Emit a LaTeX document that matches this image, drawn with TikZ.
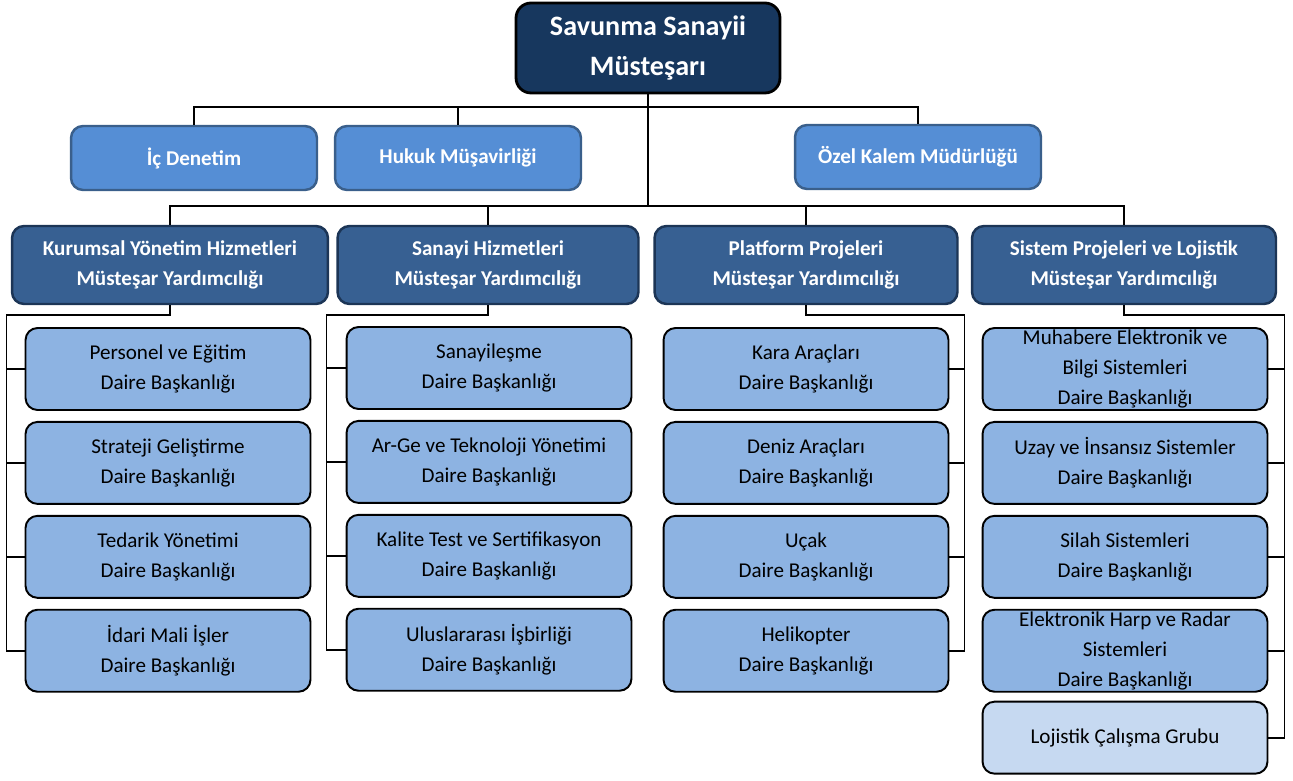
\documentclass[tikz,border=0pt]{standalone}
\usepackage{fontspec}
\setmainfont{Carlito}
\usetikzlibrary{positioning}

\definecolor{chieffill}{HTML}{17375E}
\definecolor{stafffill}{HTML}{558ED5}
\definecolor{staffline}{HTML}{3A5F8B}
\definecolor{depfill}{HTML}{376092}
\definecolor{depline}{HTML}{1C3556}
\definecolor{unitfill}{HTML}{8DB3E2}
\definecolor{groupfill}{HTML}{C6D9F1}

\tikzset{
  chief/.style={draw=black, line width=1.6pt, fill=chieffill, rounded corners=0.3cm,
    text=white, align=center, font=\bfseries\fontsize{16}{22.7}\selectfont,
    minimum width=5.28cm, minimum height=1.8cm, inner sep=0pt},
  staff/.style={draw=staffline, line width=1.4pt, fill=stafffill, rounded corners=0.24cm,
    text=white, align=center, font=\bfseries\fontsize{12}{17}\selectfont,
    minimum width=4.92cm, minimum height=1.28cm, inner sep=0pt},
  deputy/.style={draw=depline, line width=1.4pt, fill=depfill, rounded corners=0.24cm,
    text=white, align=center, font=\bfseries\fontsize{12}{17}\selectfont,
    minimum height=1.56cm, inner sep=0pt},
  unit/.style={draw=black, line width=1.1pt, fill=unitfill, rounded corners=0.24cm,
    align=center, font=\fontsize{12}{17}\selectfont,
    minimum width=5.7cm, minimum height=1.64cm, inner sep=0pt},
  wire/.style={draw=black, line width=1pt}
}

\begin{document}
\begin{tikzpicture}[x=0.02cm, y=-0.02cm]
  \useasboundingbox (0,0) rectangle (1293,780);

  % top and staff offices
  \node[chief] (ssm) at (648,48) {Savunma Sanayii\\Müsteşarı};
  \node[staff] (ic) at (194,158) {İç Denetim};
  \node[staff] (hukuk) at (458,158) {Hukuk Müşavirliği};
  \node[staff] (ozel) at (918,157) {Özel Kalem Müdürlüğü};

  % deputies
  \node[deputy, minimum width=6.32cm] (kyh) at (170,265) {Kurumsal Yönetim Hizmetleri\\Müsteşar Yardımcılığı};
  \node[deputy, minimum width=6.02cm] (shz) at (488,265) {Sanayi Hizmetleri\\Müsteşar Yardımcılığı};
  \node[deputy, minimum width=6.06cm] (ppr) at (806,265) {Platform Projeleri\\Müsteşar Yardımcılığı};
  \node[deputy, minimum width=6.08cm] (spl) at (1124,265) {Sistem Projeleri ve Lojistik\\Müsteşar Yardımcılığı};

  % Kurumsal Yonetim units
  \node[unit] (k1) at (168,369) {Personel ve Eğitim\\Daire Başkanlığı};
  \node[unit, below=0.2cm of k1] (k2) {Strateji Geliştirme\\Daire Başkanlığı};
  \node[unit, below=0.2cm of k2] (k3) {Tedarik Yönetimi\\Daire Başkanlığı};
  \node[unit, below=0.2cm of k3] (k4) {İdari Mali İşler\\Daire Başkanlığı};

  % Sanayi units
  \node[unit] (s1) at (489,368) {Sanayileşme\\Daire Başkanlığı};
  \node[unit, below=0.2cm of s1] (s2) {Ar-Ge ve Teknoloji Yönetimi\\Daire Başkanlığı};
  \node[unit, below=0.2cm of s2] (s3) {Kalite Test ve Sertifikasyon\\Daire Başkanlığı};
  \node[unit, below=0.2cm of s3] (s4) {Uluslararası İşbirliği\\Daire Başkanlığı};

  % Platform units
  \node[unit] (p1) at (806,369) {Kara Araçları\\Daire Başkanlığı};
  \node[unit, below=0.2cm of p1] (p2) {Deniz Araçları\\Daire Başkanlığı};
  \node[unit, below=0.2cm of p2] (p3) {Uçak\\Daire Başkanlığı};
  \node[unit, below=0.2cm of p3] (p4) {Helikopter\\Daire Başkanlığı};

  % Sistem units
  \node[unit] (y1) at (1125,369) {Muhabere Elektronik ve\\Bilgi Sistemleri\\Daire Başkanlığı};
  \node[unit, below=0.2cm of y1] (y2) {Uzay ve İnsansız Sistemler\\Daire Başkanlığı};
  \node[unit, below=0.2cm of y2] (y3) {Silah Sistemleri\\Daire Başkanlığı};
  \node[unit, below=0.2cm of y3] (y4) {Elektronik Harp ve Radar\\Sistemleri\\Daire Başkanlığı};
  \node[unit, fill=groupfill, minimum height=1.44cm, below=0.16cm of y4] (y5) {Lojistik Çalışma Grubu};

  % connectors
  \draw[wire] (ic.north) -- ++(0,-18) -| (ozel.north);
  \draw[wire] (hukuk.north) -- ++(0,-18);
  \path (kyh.north) ++(0,-19) coordinate (lowbus);
  \draw[wire] (kyh.north) -- (lowbus) -| (spl.north);
  \draw[wire] (shz.north) -- (shz.north |- lowbus);
  \draw[wire] (ppr.north) -- (ppr.north |- lowbus);
  \draw[wire] (ssm.south) -- (ssm.south |- lowbus);

  \draw[wire] (kyh.south) -- ++(0,10) -| ([xshift=-0.36cm]k4.west) -- (k4.west);
  \foreach \n in {k1,k2,k3} \draw[wire] (\n.west) -- ++(-18,0);
  \draw[wire] (shz.south) -- ++(0,10) -| ([xshift=-0.38cm]s4.west) -- (s4.west);
  \foreach \n in {s1,s2,s3} \draw[wire] (\n.west) -- ++(-19,0);
  \draw[wire] (ppr.south) -- ++(0,10) -| ([xshift=0.3cm]p4.east) -- (p4.east);
  \foreach \n in {p1,p2,p3} \draw[wire] (\n.east) -- ++(15,0);
  \draw[wire] (spl.south) -- ++(0,10) -| ([xshift=0.32cm]y5.east) -- (y5.east);
  \foreach \n in {y1,y2,y3,y4} \draw[wire] (\n.east) -- ++(16,0);
\end{tikzpicture}
\end{document}
